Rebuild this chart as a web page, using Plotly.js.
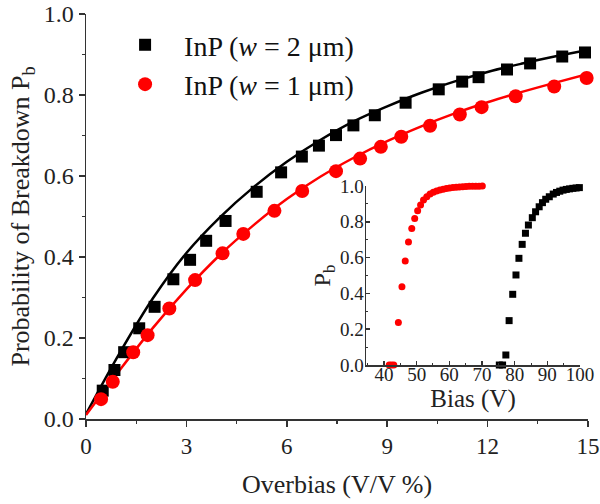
<!DOCTYPE html>
<html>
<head>
<meta charset="utf-8">
<script src="https://cdn.plot.ly/plotly-3.0.1.min.js"></script>
<style>html,body{margin:0;padding:0;background:#fff;}#chart{width:600px;height:504px;}</style>
</head>
<body>
<div id="chart"></div>
<script>
// Main panel: breakdown probability vs overbias
const overbiasW2 = [0.50,0.85,1.14,1.59,2.05,2.61,3.11,3.59,4.17,5.10,5.83,6.45,6.96,7.47,7.99,8.63,9.55,10.54,11.24,11.73,12.58,13.27,14.23,14.91];
const pbW2 = [0.070,0.121,0.165,0.224,0.277,0.345,0.393,0.440,0.489,0.561,0.609,0.648,0.675,0.701,0.725,0.750,0.781,0.814,0.833,0.844,0.863,0.878,0.895,0.905];
const overbiasW1 = [0.45,0.80,1.41,1.84,2.49,3.26,4.08,4.70,5.63,6.46,7.47,8.19,8.81,9.42,10.28,11.17,11.82,12.84,13.99,14.96];
const pbW1 = [0.049,0.092,0.165,0.207,0.273,0.343,0.409,0.457,0.514,0.563,0.612,0.643,0.672,0.697,0.724,0.752,0.770,0.797,0.821,0.842];
// Fit curves
const fitX = [0,1,2,3,4,5,6,7,8,9,10,11,12,13,14,15];
const fitW2 = [0.012,0.162,0.298,0.410,0.498,0.572,0.635,0.689,0.735,0.772,0.805,0.833,0.857,0.877,0.895,0.911];
const fitW1 = [0.010,0.120,0.225,0.320,0.405,0.478,0.543,0.598,0.645,0.686,0.722,0.754,0.782,0.807,0.830,0.852];
// Inset: Pb vs bias
const biasW1 = [41.6,42.3,43.0,44.4,45.5,46.5,47.5,48.5,49.4,50.3,51.2,52.1,53.1,54.1,55.1,56.1,57.1,58.1,59.1,60.1,61.1,62.1,63.1,64.1,65.1,66.1,67.1,68.1,69.1,70.1];
const pbBiasW1 = [0,0,0,0.238,0.437,0.581,0.687,0.762,0.819,0.862,0.894,0.922,0.940,0.955,0.965,0.972,0.978,0.982,0.986,0.989,0.991,0.993,0.995,0.996,0.997,0.998,0.998,0.999,0.999,1.0];
const biasW2 = [75.3,76.3,77.3,78.3,79.4,80.4,81.3,82.3,83.3,84.2,85.4,86.4,87.5,88.5,89.5,90.6,91.8,92.8,93.8,94.8,95.8,96.8,97.8,98.8,99.8];
const pbBiasW2 = [0,0,0.056,0.248,0.395,0.503,0.596,0.674,0.736,0.782,0.823,0.856,0.884,0.907,0.926,0.940,0.955,0.964,0.971,0.977,0.981,0.984,0.987,0.989,0.991];
// Tick labels
const mainXTicks = [0,3,6,9,12,15];
const mainYTicks = [0,0.2,0.4,0.6,0.8,1.0];
const insetXTicks = [40,50,60,70,80,90,100];
const insetYTicks = [0,0.2,0.4,0.6,0.8,1.0];

const BLACK = '#000000', RED = '#ff0000';
const FONT = 'Liberation Serif, "Times New Roman", serif';

const traces = [
  {x: fitX, y: fitW2, mode: 'lines', line: {color: BLACK, width: 2.5, shape: 'spline'}, showlegend: false, xaxis: 'x', yaxis: 'y'},
  {x: fitX, y: fitW1, mode: 'lines', line: {color: RED, width: 2.5, shape: 'spline'}, showlegend: false, xaxis: 'x', yaxis: 'y'},
  {x: overbiasW2, y: pbW2, mode: 'markers', name: 'InP (<i>w</i> = 2 μm)', marker: {symbol: 'square', size: 12, color: BLACK}, cliponaxis: false, xaxis: 'x', yaxis: 'y'},
  {x: overbiasW1, y: pbW1, mode: 'markers', name: 'InP (<i>w</i> = 1 μm)', marker: {symbol: 'circle', size: 14, color: RED}, cliponaxis: false, xaxis: 'x', yaxis: 'y'},
  {x: biasW1, y: pbBiasW1, mode: 'markers', marker: {symbol: 'circle', size: 7, color: RED}, cliponaxis: false, showlegend: false, xaxis: 'x2', yaxis: 'y2'},
  {x: biasW2, y: pbBiasW2, mode: 'markers', marker: {symbol: 'square', size: 7, color: BLACK}, cliponaxis: false, showlegend: false, xaxis: 'x2', yaxis: 'y2'}
];

const axisCommon = {showline: true, linecolor: '#333', linewidth: 1.5, showgrid: false, zeroline: false, tickcolor: '#333', tickwidth: 1.5};

const layout = {
  width: 600, height: 504,
  margin: {l: 86, r: 12, t: 14, b: 85},
  paper_bgcolor: '#fff', plot_bgcolor: '#fff',
  font: {family: FONT, color: '#222', size: 22},
  showlegend: true,
  legend: {x: 0.040, y: 0.985, xanchor: 'left', yanchor: 'top', itemwidth: 68, font: {family: FONT, size: 28, color: '#111'}, bgcolor: 'rgba(0,0,0,0)', tracegroupgap: 0},
  xaxis: Object.assign({}, axisCommon, {
    domain: [0, 1], range: [0, 15], tickvals: mainXTicks, ticktext: mainXTicks.map(String),
    ticks: 'outside', ticklen: 6,
    minor: {ticks: 'outside', ticklen: 3, dtick: 1.5, tick0: 0, tickcolor: '#333', tickwidth: 1.2},
    tickfont: {family: FONT, size: 23, color: '#222'},
    title: {text: 'Overbias (V/V %)', font: {family: FONT, size: 26, color: '#222'}, standoff: 16},
    anchor: 'y'
  }),
  yaxis: Object.assign({}, axisCommon, {
    domain: [0, 1], range: [0, 1], tickvals: mainYTicks, ticktext: mainYTicks.map(v => v.toFixed(1)),
    ticks: 'outside', ticklen: 6,
    minor: {ticks: 'outside', ticklen: 3, dtick: 0.1, tick0: 0, tickcolor: '#333', tickwidth: 1.2},
    tickfont: {family: FONT, size: 24, color: '#222'},
    title: {text: 'Probability of Breakdown P<sub>b</sub>', font: {family: FONT, size: 26, color: '#222'}, standoff: 6},
    anchor: 'x'
  }),
  xaxis2: Object.assign({}, axisCommon, {
    domain: [0.5578, 0.9841], range: [34.5, 100], tickvals: insetXTicks, ticktext: insetXTicks.map(String),
    ticks: 'inside', ticklen: 4, ticklabelstandoff: -8,
    minor: {ticks: 'inside', ticklen: 2, dtick: 5, tick0: 0, tickcolor: '#333', tickwidth: 1},
    tickfont: {family: FONT, size: 19, color: '#222'},
    title: {text: 'Bias (V)', font: {family: FONT, size: 25, color: '#222'}, standoff: 0},
    anchor: 'y2'
  }),
  yaxis2: Object.assign({}, axisCommon, {
    domain: [0.1333, 0.5753], range: [0, 1], tickvals: insetYTicks, ticktext: insetYTicks.map(v => v.toFixed(1)),
    ticks: 'inside', ticklen: 4, ticklabelstandoff: -3,
    minor: {ticks: 'inside', ticklen: 2, dtick: 0.1, tick0: 0, tickcolor: '#333', tickwidth: 1},
    tickfont: {family: FONT, size: 19, color: '#222'},
    title: {text: 'P<sub>b</sub>', font: {family: FONT, size: 24, color: '#222'}, standoff: 2},
    anchor: 'x2'
  })
};

Plotly.newPlot('chart', traces, layout, {displayModeBar: false, staticPlot: true});
</script>
</body>
</html>
